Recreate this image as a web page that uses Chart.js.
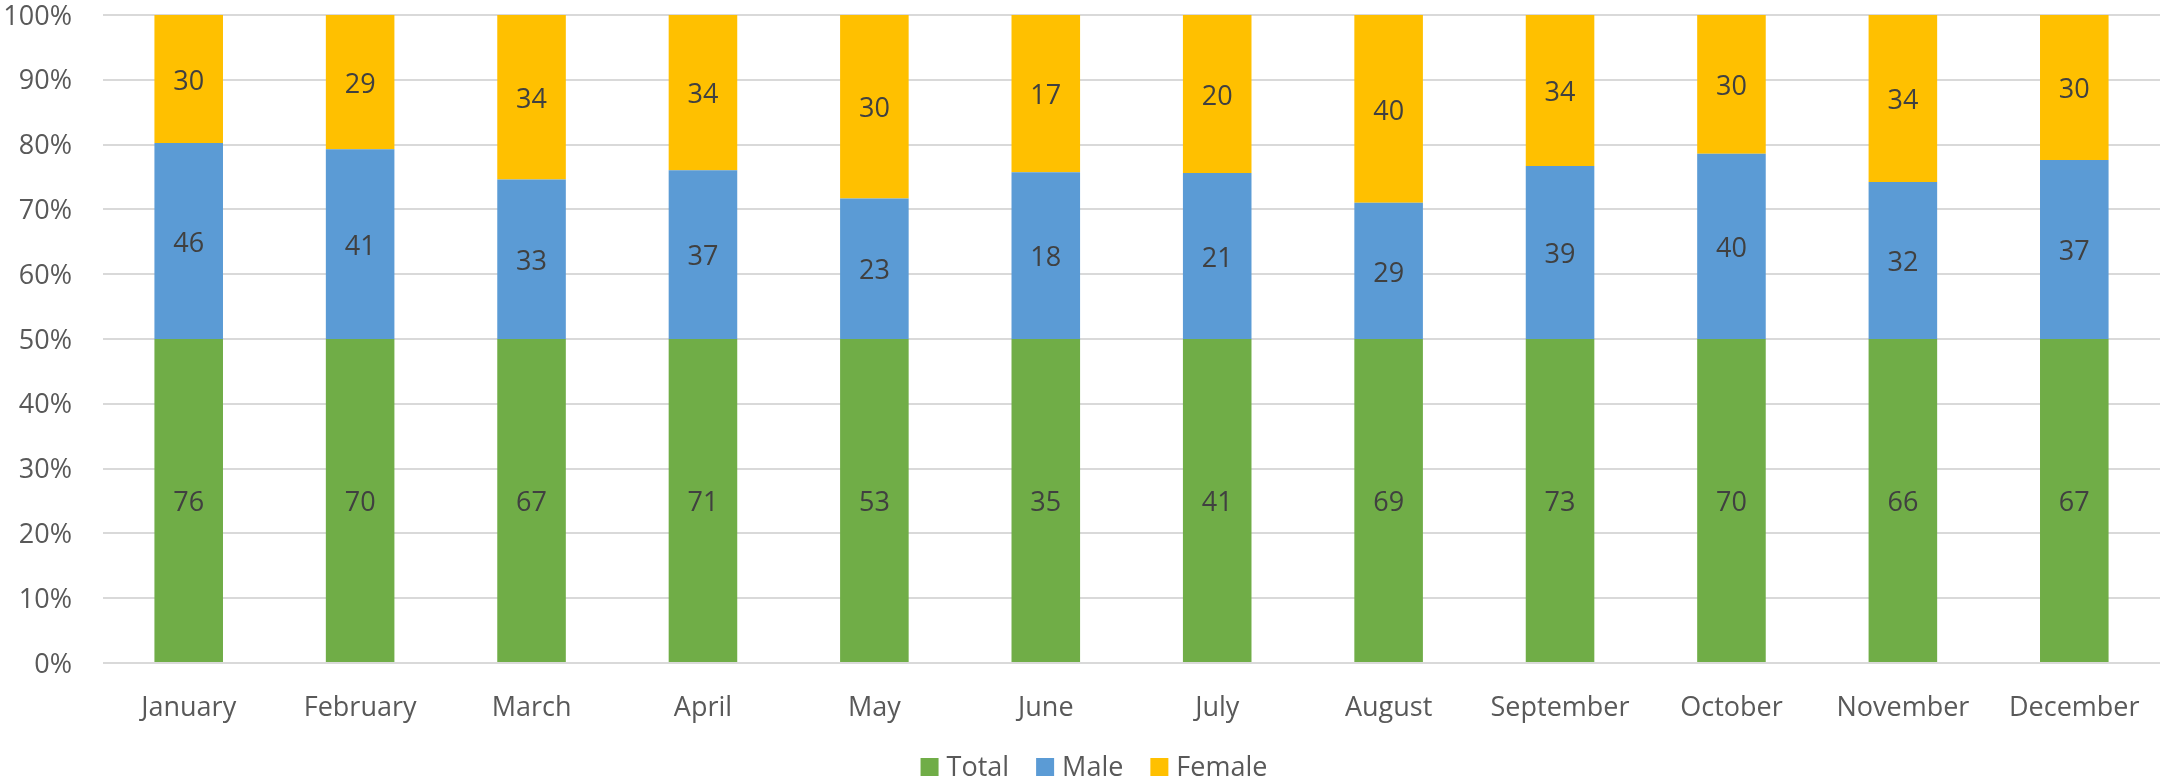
<!DOCTYPE html>
<html>
<head>
<meta charset="utf-8">
<script src="https://cdn.jsdelivr.net/npm/chart.js@4.4.1/dist/chart.umd.min.js"></script>
<style>
  html, body { margin: 0; padding: 0; background: #ffffff; }
  #wrap { width: 2160px; height: 781px; position: relative; }
</style>
</head>
<body>
<div id="wrap"><canvas id="c" width="2160" height="781"></canvas></div>
<script>
const categories = ["January","February","March","April","May","June","July","August","September","October","November","December"];
const totalValues  = [76, 70, 67, 71, 53, 35, 41, 69, 73, 70, 66, 67];
const maleValues   = [46, 41, 33, 37, 23, 18, 21, 29, 39, 40, 32, 37];
const femaleValues = [30, 29, 34, 34, 30, 17, 20, 40, 34, 30, 34, 30];
const yTickLabels  = ["0%","10%","20%","30%","40%","50%","60%","70%","80%","90%","100%"];

const FONT = "'Open Sans', 'Liberation Sans', sans-serif";
const FS = 27;

// 100% stacked: each segment's share of the column sum
function shares(values) {
  return values.map((v, i) => {
    const sum = totalValues[i] + maleValues[i] + femaleValues[i];
    return v / sum * 100;
  });
}

const rawByDataset = [totalValues, maleValues, femaleValues];

const labelPlugin = {
  id: 'segLabels',
  afterDatasetsDraw(chart) {
    const ctx = chart.ctx;
    ctx.save();
    ctx.font = FS + "px " + FONT;
    ctx.fillStyle = "#404040";
    ctx.textAlign = "center";
    ctx.textBaseline = "middle";
    chart.data.datasets.forEach((ds, di) => {
      const meta = chart.getDatasetMeta(di);
      meta.data.forEach((el, i) => {
        const y = (el.y + el.base) / 2 + 3;
        ctx.fillText(String(rawByDataset[di][i]), el.x, y);
      });
    });
    ctx.restore();
  }
};

const legendPlugin = {
  id: 'customLegend',
  afterDraw(chart) {
    const ctx = chart.ctx;
    ctx.save();
    ctx.font = FS + "px " + FONT;
    ctx.textBaseline = "middle";
    ctx.textAlign = "left";
    const box = 18, gapText = 8, gapItem = 27;
    const items = chart.data.datasets.map(ds => ({ label: ds.label, color: ds.backgroundColor, w: ctx.measureText(ds.label).width }));
    let totalW = 0;
    items.forEach((it, k) => { totalW += box + gapText + it.w + (k < items.length - 1 ? gapItem : 0); });
    let x = 1094 - totalW / 2;
    const cy = 767;
    items.forEach(it => {
      ctx.fillStyle = it.color;
      ctx.fillRect(x, cy - box / 2, box, box);
      x += box + gapText;
      ctx.fillStyle = "#595959";
      ctx.fillText(it.label, x, cy + 1);
      x += it.w + gapItem;
    });
    ctx.restore();
  }
};

new Chart(document.getElementById('c'), {
  type: 'bar',
  data: {
    labels: categories,
    datasets: [
      { label: 'Total',  data: shares(totalValues),  backgroundColor: '#70AD47' },
      { label: 'Male',   data: shares(maleValues),   backgroundColor: '#5B9BD5' },
      { label: 'Female', data: shares(femaleValues), backgroundColor: '#FFC000' }
    ]
  },
  options: {
    responsive: false,
    animation: false,
    devicePixelRatio: 1,
    layout: { padding: { top: 15, right: 0, bottom: 0, left: 0 } },
    datasets: { bar: { barPercentage: 0.4, categoryPercentage: 1.0, borderWidth: 0 } },
    plugins: { legend: { display: false }, tooltip: { enabled: false } },
    scales: {
      x: {
        stacked: true,
        grid: { display: false, drawTicks: false },
        border: { display: false },
        ticks: { color: '#595959', font: { family: FONT, size: FS }, padding: 29, maxRotation: 0, autoSkip: false },
        afterFit(scale) { scale.height = 118; scale.paddingLeft = 0; scale.paddingRight = 0; }
      },
      y: {
        stacked: true,
        min: 0, max: 100,
        grid: { color: '#D9D9D9', lineWidth: 2, drawTicks: false },
        border: { display: false },
        ticks: {
          stepSize: 10,
          color: '#595959',
          font: { family: FONT, size: FS },
          padding: 31,
          labelOffset: 2,
          callback: (v, i) => yTickLabels[i]
        },
        afterFit(scale) { scale.width = 103; scale.paddingTop = 0; scale.paddingBottom = 0; }
      }
    }
  },
  plugins: [labelPlugin, legendPlugin]
});
</script>
</body>
</html>
